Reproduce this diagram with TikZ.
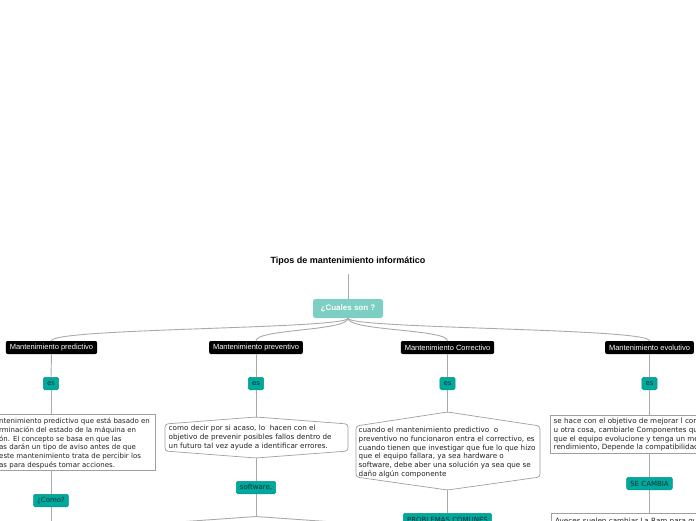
\documentclass[tikz,border=0pt]{standalone}
\usepackage{fontspec}
\setmainfont{DejaVu Sans}
\newfontfamily\arialfont{Liberation Sans}
\definecolor{linegray}{HTML}{AAAAAA}
\definecolor{boxgray}{HTML}{A0A0A0}
\definecolor{esfill}{HTML}{00A99D}
\definecolor{esdraw}{HTML}{00918A}
\definecolor{estext}{HTML}{12302D}
\definecolor{rootfill}{HTML}{7DCEC3}
\definecolor{txtc}{HTML}{222222}
\begin{document}
\begin{tikzpicture}[x=1pt,y=-1pt,
  conn/.style={draw=linegray, line width=0.9pt},
  titletext/.style={font=\arialfont\bfseries\fontsize{9}{11}\selectfont, text=black, inner sep=0pt},
  rootbox/.style={fill=rootfill, rounded corners=2.5pt, text=white, font=\arialfont\bfseries\fontsize{8}{10}\selectfont, minimum width=70pt, minimum height=19pt, inner sep=0pt},
  blackbox/.style={fill=black, rounded corners=2pt, text=white, font=\arialfont\fontsize{7.5}{9}\selectfont, minimum height=13pt, inner xsep=4pt, inner ysep=0pt},
  tealbox/.style={fill=esfill, draw=esdraw, line width=0.5pt, rounded corners=1.5pt, text=estext, font=\fontsize{7}{8}\selectfont, minimum height=12.5pt, inner xsep=3.6pt, inner ysep=0pt},
  bodytext/.style={font=\fontsize{7.2}{8.9}\selectfont, text=txtc, align=left, inner sep=0pt, anchor=north west},
  framebox/.style={draw=boxgray, line width=0.7pt, fill=white},
]
\useasboundingbox (0,0) rectangle (696,520);
\clip (0,0) rectangle (696,520);
\fill[white] (0,0) rectangle (696,520);

% title and root
\node[titletext] (title) at (348,261) {Tipos de mantenimiento informático};
\coordinate (titlefoot) at (348,274);
\node[rootbox] (root) at (348,308.5) {¿Cuales son ?};

% level 1
\node[blackbox] (mpred) at (51.5,347.5) {Mantenimiento predictivo};
\node[blackbox] (mprev) at (256,347.5) {Mantenimiento preventivo};
\node[blackbox] (mcorr) at (447.5,347.5) {Mantenimiento Correctivo};
\node[blackbox] (mevol) at (649.5,347.5) {Mantenimiento evolutivo};

% es nodes
\node[tealbox] (es1) at (51,383.5) {es};
\node[tealbox] (es2) at (256,383.5) {es};
\node[tealbox] (es3) at (447.5,383.5) {es};
\node[tealbox] (es4) at (649.5,383.5) {es};

% predictive box
\draw[framebox] (-5,414) rectangle (155,470);
\coordinate (predtop) at (51,414);
\coordinate (predbot) at (51,470);
\node[bodytext, font=\fontsize{7}{8.9}\selectfont] (predtxt) at (-1,416) {\rule{0pt}{7pt}ntenimiento predictivo que está basado en\\rminación del estado de la máquina en\\ón. El concepto se basa en que las\\as darán un tipo de aviso antes de que\\este mantenimiento trata de percibir los\\as para después tomar acciones.};
\node[tealbox] (como) at (51,500.5) {¿Como?};
\coordinate (comoend) at (51,525);

% preventive hexagon
\draw[framebox, rounded corners=3pt] (165,424) -- (256,417) -- (348,424) -- (348,451) -- (256,458) -- (165,451) -- cycle;
\coordinate (prevtop) at (256,417);
\coordinate (prevbot) at (256,458);
\node[bodytext] (prevtxt) at (168.5,423) {\rule{0pt}{7pt}como decir por si acaso, lo\ \ hacen con el\\objetivo de prevenir posibles fallos dentro de\\un futuro tal vez ayude a identificar errores.};
\node[tealbox] (soft) at (256,487.5) {software,};
\coordinate (softfork) at (256,516.5);
\coordinate (softleft) at (150,524);
\coordinate (softright) at (362,524);

% corrective hexagon
\draw[framebox, rounded corners=3pt] (356,426) -- (447.5,412) -- (540,426) -- (540,477) -- (447.5,490) -- (356,477) -- cycle;
\coordinate (corrtop) at (447.5,412);
\coordinate (corrbot) at (447.5,490);
\node[bodytext] (corrtxt) at (358.5,425) {\rule{0pt}{7pt}cuando el mantenimiento predictivo\ \ o\\preventivo no funcionaron entra el correctivo, es\\cuando tienen que investigar que fue lo que hizo\\que el equipo fallara, ya sea hardware o\\software, debe aber una solución ya sea que se\\daño algún componente};
\node[tealbox, anchor=north, minimum height=14pt] (probl) at (447.5,513) {PROBLEMAS COMUNES};

% evolutive box
\draw[framebox] (550,415) rectangle (710,453);
\coordinate (evoltop) at (649.5,415);
\coordinate (evolbot) at (649.5,453);
\node[bodytext] (evoltxt) at (553.5,416) {\rule{0pt}{7pt}se hace con el objetivo de mejorar l com\\u otra cosa, cambiarle Componentes que\\que el equipo evolucione y tenga un mej\\rendimiento, Depende la compatibilidad};
\node[tealbox] (secambia) at (649.5,483.5) {SE CAMBIA};
\draw[framebox] (551,513) rectangle (710,540);
\coordinate (ramtop) at (649.5,513);
\node[font=\fontsize{7.2}{8.9}\selectfont, text=txtc, inner sep=0pt, anchor=base west] (ramtxt) at (555,523.5) {Aveces suelen cambiar La Ram para que};

% connectors
\draw[conn] (titlefoot) -- (root.north);
\draw[conn] (root.south) .. controls (348,329) and (51.5,328) .. (mpred.north);
\draw[conn] (root.south) .. controls (348,331) and (256,329) .. (mprev.north);
\draw[conn] (root.south) .. controls (348,331) and (447.5,329) .. (mcorr.north);
\draw[conn] (root.south) .. controls (348,329) and (649.5,328) .. (mevol.north);

\draw[conn] (mpred.south) -- (es1.north);
\draw[conn] (mprev.south) -- (es2.north);
\draw[conn] (mcorr.south) -- (es3.north);
\draw[conn] (mevol.south) -- (es4.north);

\draw[conn] (es1.south) -- (predtop);
\draw[conn] (predbot) -- (como.north);
\draw[conn] (como.south) -- (comoend);

\draw[conn] (es2.south) -- (prevtop);
\draw[conn] (prevbot) -- (soft.north);
\draw[conn] (soft.south) -- (softfork);
\draw[conn] (softfork) -- (softleft);
\draw[conn] (softfork) -- (softright);

\draw[conn] (es3.south) -- (corrtop);
\draw[conn] (corrbot) -- (probl.north);

\draw[conn] (es4.south) -- (evoltop);
\draw[conn] (evolbot) -- (secambia.north);
\draw[conn] (secambia.south) -- (ramtop);
\end{tikzpicture}
\end{document}
